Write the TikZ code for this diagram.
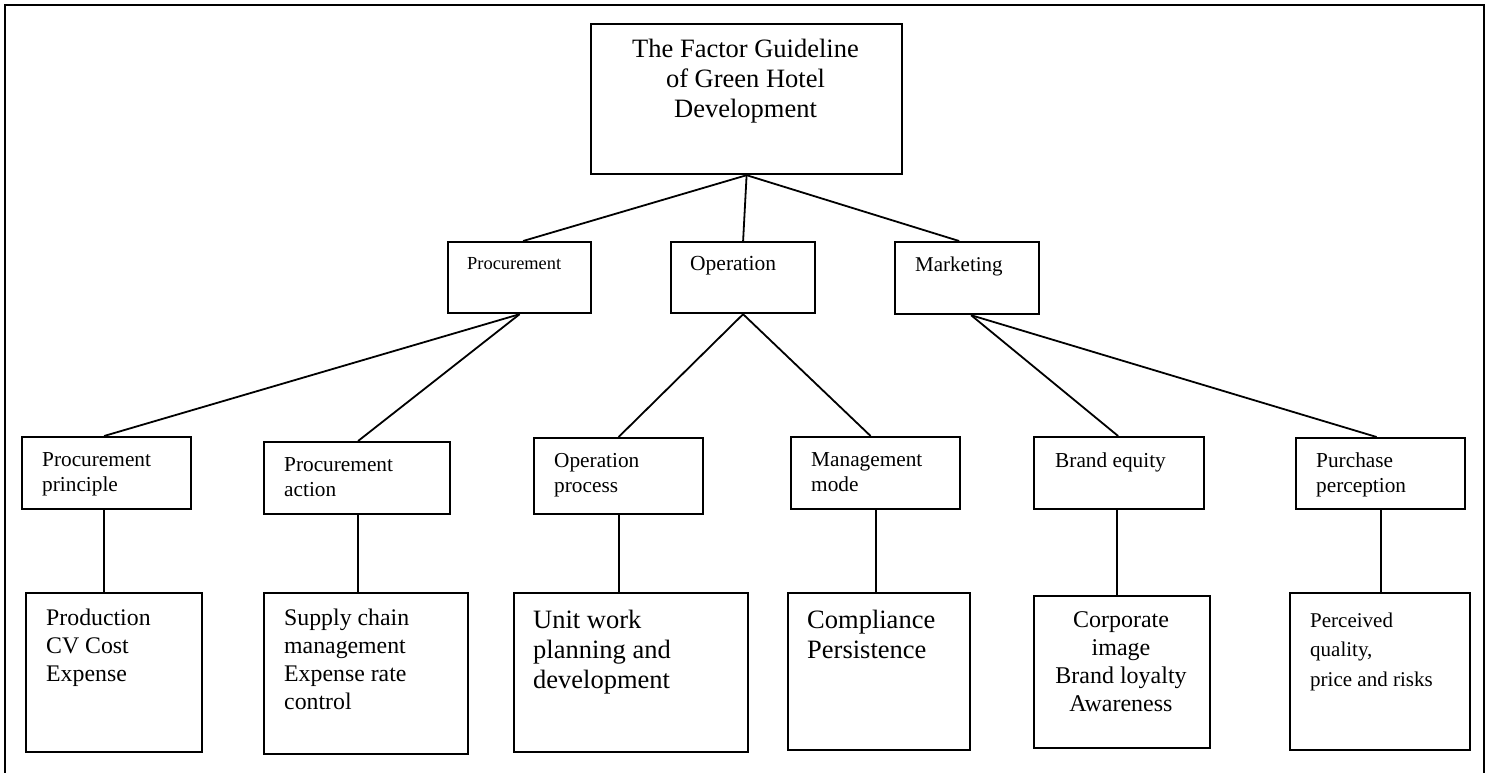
\documentclass[tikz,border=0pt]{standalone}
\usepackage{fontspec}
\setmainfont{Liberation Serif}
\begin{document}
\begin{tikzpicture}[x=1pt,y=-1pt,
  box/.style={draw, line width=2.2pt, inner sep=0pt, anchor=north west},
  conn/.style={line width=1.8pt},
  lbl/.style={inner sep=0pt, anchor=base west, align=left},
  fA/.style={font=\fontsize{26.5}{30}\selectfont},
  fB/.style={font=\fontsize{21.3}{25}\selectfont},
  fC/.style={font=\fontsize{23.8}{28.3}\selectfont},
]
\useasboundingbox (0,0) rectangle (1491,773);
% frame (bottom edge outside the picture)
\draw[line width=2.2pt] (5,775) -- (5,5) -- (1484,5) -- (1484,775);

% boxes
\node[box, minimum width=311, minimum height=150] (top) at (590,23) {};
\node[box, minimum width=143, minimum height=71] (proc) at (447,241) {};
\node[box, minimum width=144, minimum height=71] (oper) at (670,241) {};
\node[box, minimum width=144, minimum height=72] (mark) at (894,241) {};
\node[box, minimum width=169, minimum height=72] (pp) at (21,436) {};
\node[box, minimum width=186, minimum height=72] (pa) at (263,441) {};
\node[box, minimum width=169, minimum height=76] (op) at (533,437) {};
\node[box, minimum width=169, minimum height=72] (mm) at (790,436) {};
\node[box, minimum width=170, minimum height=72] (be) at (1033,436) {};
\node[box, minimum width=169, minimum height=71] (pup) at (1295,437) {};
\node[box, minimum width=176, minimum height=159] (b1) at (25,592) {};
\node[box, minimum width=204, minimum height=161] (b2) at (263,592) {};
\node[box, minimum width=234, minimum height=159] (b3) at (513,592) {};
\node[box, minimum width=182, minimum height=157] (b4) at (787,592) {};
\node[box, minimum width=176, minimum height=152] (b5) at (1033,595) {};
\node[box, minimum width=180, minimum height=157] (b6) at (1289,592) {};

% texts (base anchor = baseline of the last line)
\node[inner sep=0pt, anchor=base, align=center, fA] (ttop) at (745.5,118)
  {The Factor Guideline\\of Green Hotel\\Development};
\node[lbl, font=\fontsize{18.4}{22}\selectfont] (tproc) at (467,269) {Procurement};
\node[lbl, font=\fontsize{21.5}{25}\selectfont] (toper) at (690,270) {Operation};
\node[lbl, font=\fontsize{21}{25}\selectfont] (tmark) at (915,271) {Marketing};

\node[lbl, fB] (tpp) at (42,491) {Procurement\\principle};
\node[lbl, fB] (tpa) at (284,496) {Procurement\\action};
\node[lbl, fB] (top2) at (554,492) {Operation\\process};
\node[lbl, fB] (tmm) at (811,491) {Management\\mode};
\node[lbl, fB] (tbe) at (1055,467) {Brand equity};
\node[lbl, fB] (tpup) at (1316,492) {Purchase\\perception};

\node[lbl, fC] (tb1) at (46,681.6) {Production\\CV Cost\\Expense};
\node[lbl, fC] (tb2) at (284,709.9) {Supply chain\\management\\Expense rate\\control};
\node[lbl, fA] (tb3) at (533,688) {Unit work\\planning and\\development};
\node[lbl, fA] (tb4) at (807,658) {Compliance\\Persistence};
\node[inner sep=0pt, anchor=base, align=center, font=\fontsize{24}{27.7}\selectfont] (tb5) at (1121,711)
  {Corporate\\image\\Brand loyalty\\Awareness};
\node[lbl, font=\fontsize{21}{29.5}\selectfont] (tb6) at (1310,686) {Perceived\\quality,\\price and risks};

% connectors
\draw[conn] (top.south) -- ([xshift=3.5pt]proc.north);
\draw[conn] (top.south) -- (oper.north);
\draw[conn] (top.south) -- ([xshift=-8pt]mark.north);
\draw[conn] (proc.south) -- ([xshift=-2.5pt]pp.north);
\draw[conn] (proc.south) -- ([xshift=1pt]pa.north);
\draw[conn] (oper.south) -- (op.north);
\draw[conn] (oper.south) -- ([xshift=-5pt]mm.north);
\draw[conn] ([xshift=4pt]mark.south) -- ([xshift=-1pt]be.north);
\draw[conn] ([xshift=4pt]mark.south) -- ([xshift=-4pt]pup.north);

\draw[conn] ([xshift=-2.5pt]pp.south) -- ([xshift=-2.5pt]pp.south |- b1.north);
\draw[conn] ([xshift=1pt]pa.south) -- ([xshift=1pt]pa.south |- b2.north);
\draw[conn] (op.south) -- (op.south |- b3.north);
\draw[conn] (mm.south) -- (mm.south |- b4.north);
\draw[conn] ([xshift=-2pt]be.south) -- ([xshift=-2pt]be.south |- b5.north);
\draw[conn] (pup.south) -- (pup.south |- b6.north);
\end{tikzpicture}
\end{document}
